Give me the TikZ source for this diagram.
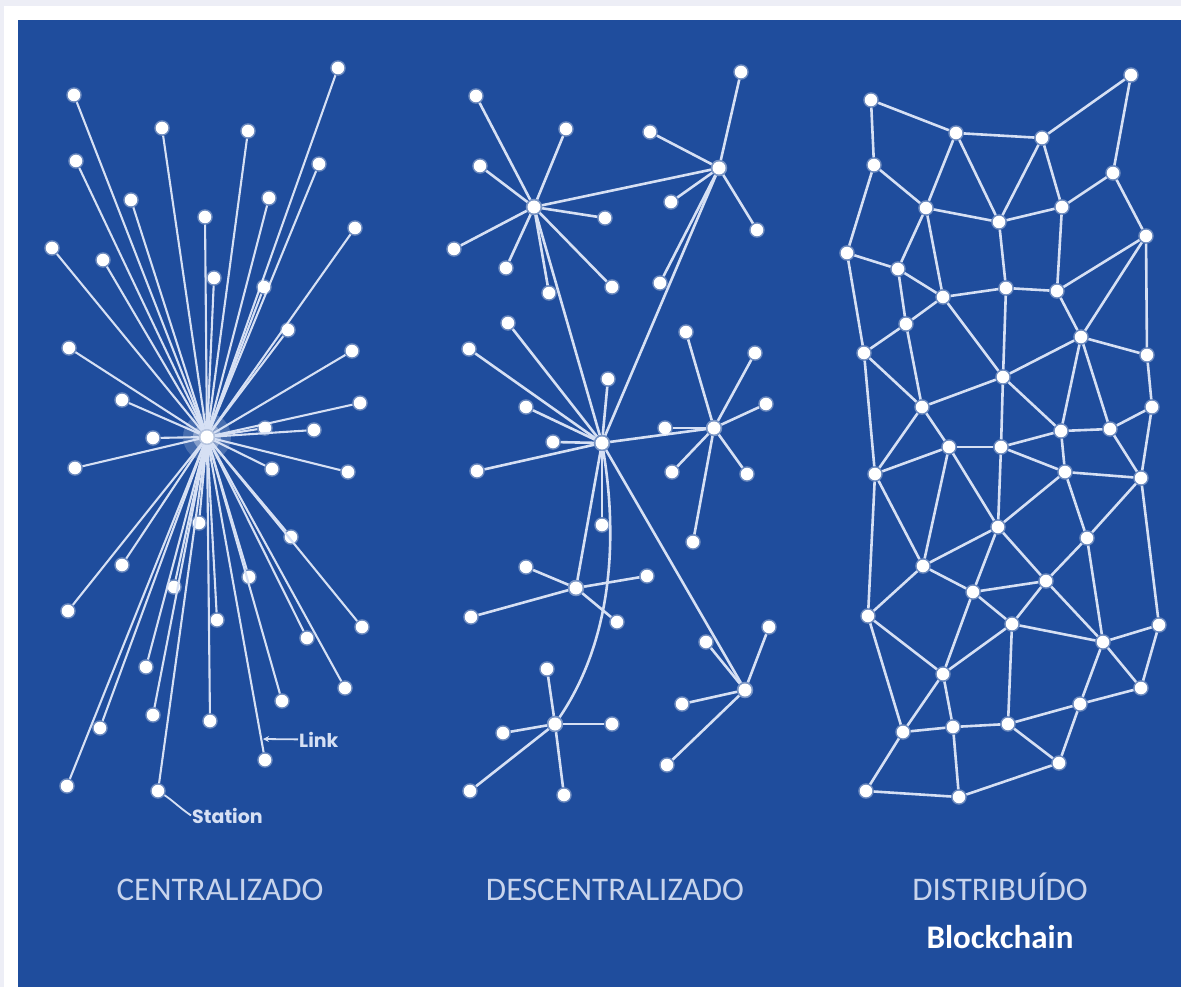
\documentclass[tikz,border=0pt]{standalone}
\usepackage{fontspec}
\setmainfont{Carlito}
\newfontfamily\stfont{Poppins}
\usetikzlibrary{arrows.meta}
\definecolor{bgblue}{RGB}{31,77,157}
\definecolor{framec}{RGB}{237,238,246}
\definecolor{linkc}{RGB}{214,224,244}
\definecolor{labc}{RGB}{200,212,236}
\begin{document}
\begin{tikzpicture}[x=1pt,y=-1pt,
  dot/.style={circle,fill=white,inner sep=0pt,minimum size=12.5pt,draw=white,draw opacity=0.35,line width=3pt},
  hub/.style={circle,fill=white,inner sep=0pt,minimum size=13pt,draw=white,draw opacity=0.4,line width=3.5pt},
  link/.style={draw=linkc,line width=2.6pt},
  lab/.style={text=labc,anchor=base,inner sep=0pt,font=\fontsize{33}{38}\selectfont},
  annot/.style={text=linkc,inner sep=1pt,font=\stfont\bfseries\fontsize{19}{22}\selectfont}]
\useasboundingbox (0,0) rectangle (1181,987);
\fill[framec] (0,0) rectangle (1181,987);
\fill[white] (4,6) rectangle (1181,987);
\fill[bgblue] (18,20) rectangle (1181,987);

% ---------------- Centralized ----------------
\fill[white,opacity=0.18] (207,437) circle (24);
\fill[white,opacity=0.35] (207,437) circle (14);
\node[hub] (c0) at (207,437) {};
\foreach \x/\y [count=\i] in {74/95,162/128,248/131,338/68,76/161,319/164,131/200,269/198,205/217,52/248,103/260,355/228,214/278,264/287,288/330,69/348,352/351,122/400,360/403,153/438,265/428,314/430,75/468,272/469,348/472,199/523,291/537,122/565,249/577,174/587,68/611,217/620,362/627,307/638,146/667,345/688,282/701,153/715,100/728,210/721,265/760,67/786,158/791}{
  \node[dot] (c\i) at (\x,\y) {};
  \draw[link,line width=2.1pt] (c0) -- (c\i);
}
\coordinate (linkpt) at (263,739);
\node[annot,anchor=base west] (linktxt) at (298,747) {Link};
\draw[draw=linkc,line width=1.8pt,-{Stealth[length=6pt,width=6pt]}] (linktxt.west) -- (linkpt);
\node[annot,anchor=base west] (sttxt) at (191,823) {Station};
\draw[draw=linkc,line width=1.8pt] (c43) .. controls (172,800) and (180,808) .. (sttxt.west);
\node[lab] (lcen) at (220,900) {CENTRALIZADO};

% ---------------- Decentralized ----------------
\node[hub] (hA) at (534,207) {};
\node[hub] (hB) at (719,168) {};
\node[hub] (hC) at (602,443) {};
\node[hub] (hD) at (714,428) {};
\node[hub] (hE) at (576,588) {};
\node[hub] (hF) at (555,724) {};
\node[hub] (hG) at (745,690) {};
\draw[link] (hA) -- (hB);
\draw[link] (hA) -- (hC);
\draw[link] (hB) -- (hC);
\draw[link] (hC) -- (hD);
\draw[link] (hC) -- (hE);
\draw[link] (hC) -- (hG);
\draw[link] (hC) .. controls (618,540) and (612,640) .. (hF);
\foreach \x/\y [count=\i] in {476/96,566/129,480/166,605/218,454/249,506/268,549/293,612/287}{
  \node[dot] (a\i) at (\x,\y) {}; \draw[link] (hA) -- (a\i);}
\foreach \x/\y [count=\i] in {741/72,650/132,671/202,757/230,660/283}{
  \node[dot] (b\i) at (\x,\y) {}; \draw[link] (hB) -- (b\i);}
\foreach \x/\y [count=\i] in {508/323,469/349,608/379,526/407,553/442,477/471,602/525}{
  \node[dot] (cc\i) at (\x,\y) {}; \draw[link] (hC) -- (cc\i);}
\foreach \x/\y [count=\i] in {665/428,686/332,755/353,766/404,672/472,747/474,693/542}{
  \node[dot] (dd\i) at (\x,\y) {}; \draw[link] (hD) -- (dd\i);}
\foreach \x/\y [count=\i] in {526/567,647/576,471/617,617/622}{
  \node[dot] (ee\i) at (\x,\y) {}; \draw[link] (hE) -- (ee\i);}
\foreach \x/\y [count=\i] in {547/669,503/733,612/724,470/791,564/795}{
  \node[dot] (ff\i) at (\x,\y) {}; \draw[link] (hF) -- (ff\i);}
\foreach \x/\y [count=\i] in {706/642,769/627,682/704,667/765}{
  \node[dot] (gg\i) at (\x,\y) {}; \draw[link] (hG) -- (gg\i);}
\node[lab] (ldes) at (615,900) {DESCENTRALIZADO};

% ---------------- Distributed ----------------
\foreach \n/\x/\y in {d1/871/100,d2/956/133,d3/1042/138,d4/1131/75,d5/874/165,d6/1113/173,d7/926/208,d8/999/222,d9/1062/207,d10/847/253,d11/1146/236,d12/898/269,d13/943/297,d14/1006/288,d15/1057/291,d16/906/324,d17/1081/337,d18/864/353,d19/1147/355,
  e3/1003/377,e6/922/407,e7/1061/431,e8/1110/429,e9/1152/407,e10/949/447,e11/1001/447,e12/875/474,e13/1065/472,e14/1141/478,e15/998/527,e16/1087/538,e17/923/566,e18/1046/581,e19/973/592,e20/868/616,e21/1012/624,e22/1159/625,e23/1103/642,
  f5/943/674,f6/1141/688,f7/1080/704,f8/903/732,f9/953/727,f10/1008/724,f11/1059/763,f12/866/791,f13/959/797}{
  \node[dot] (\n) at (\x,\y) {};}
\foreach \a/\b in {d1/d2,d2/d3,d3/d4,d1/d5,d4/d6,d2/d7,d2/d8,d3/d8,d3/d9,d5/d7,d5/d10,d6/d9,d6/d11,d7/d8,d8/d9,d7/d12,d7/d13,d8/d14,d9/d15,d10/d12,d10/d18,d11/d15,d11/d17,d11/d19,d12/d13,d12/d16,d13/d14,d13/d16,d14/d15,d15/d17,d16/d18,d17/d19,
  d18/e12,d18/e6,d16/e6,d13/e3,d14/e3,e3/e6,e3/d17,e3/e11,e3/e7,d17/e7,d17/e8,d19/e9,e7/e8,e8/e9,e6/e10,e6/e12,e10/e11,e10/e12,e11/e7,e11/e13,e7/e13,e8/e14,e9/e14,e13/e14,e11/e15,e10/e15,e10/e17,e12/e17,e12/e20,e13/e15,e13/e16,e14/e16,e14/e22,e15/e17,e15/e19,e15/e18,e16/e18,e16/e23,e17/e19,e17/e20,e18/e19,e18/e21,e18/e23,e19/e21,e21/e23,e22/e23,
  e20/f5,e19/f5,e21/f5,e21/f10,e23/f6,e22/f6,e23/f7,f6/f7,e20/f8,f5/f8,f5/f9,f8/f9,f9/f10,f10/f7,f10/f11,f7/f11,f8/f12,f9/f13,f12/f13,f13/f11}{
  \draw[link] (\a) -- (\b);}
\node[lab] (ldis) at (1000,900) {DISTRIBUÍDO};
\node[lab,text=white,font=\bfseries\fontsize{33}{38}\selectfont] (lblk) at (1000,948) {Blockchain};
\end{tikzpicture}
\end{document}
